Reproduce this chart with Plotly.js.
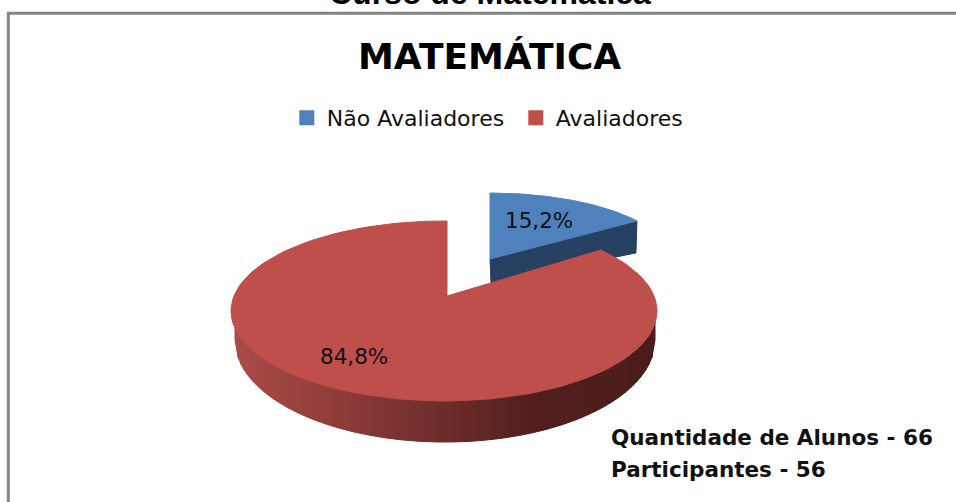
<!DOCTYPE html>
<html>
<head>
<meta charset="utf-8">
<script src="https://cdn.plot.ly/plotly-3.0.1.min.js"></script>
<style>
  body { margin: 0; background: #fff; }
  #plot { width: 956px; height: 502px; }
</style>
</head>
<body>
<div id="plot"></div>
<script>
const categories = ['Não Avaliadores', 'Avaliadores'];
const shares = [15.2, 84.8];
const shareLabels = ['15,2%', '84,8%'];
const sliceColors = ['#4f81bd', '#be4f4b'];
const noteLines = ['Quantidade de Alunos - 66', 'Participantes - 56'];

// the axes run in page pixels, so the pie geometry below is easy to tune
const blueTop = { ax: 490, ay: 259, cx: 490, cy: 259, rx: 180, ry: 66 };
const redTop = { ax: 447, ay: 296, cx: 444, cy: 311, rx: 213, ry: 90 };
const redBottom = { cx: 445, cy: 340, rx: 210, ry: 102 };

// point on the rim for a clockwise angle from 12 o'clock
function rimPoint(e, deg) {
  const t = deg * Math.PI / 180;
  const dx = e.rx * Math.sin(t), dy = -e.ry * Math.cos(t);
  const ox = (e.ax - e.cx) / e.rx, oy = (e.ay - e.cy) / e.ry;
  const px = dx / e.rx, py = dy / e.ry;
  const a = px * px + py * py, b = 2 * (ox * px + oy * py), c = ox * ox + oy * oy - 1;
  const s = (-b + Math.sqrt(b * b - 4 * a * c)) / (2 * a);
  return [e.ax + s * dx, e.ay + s * dy];
}

function wedge(e, from, to) {
  const xs = [e.ax], ys = [e.ay];
  for (let d = from; d <= to + 0.001; d += (to - from) / 120) {
    const p = rimPoint(e, d);
    xs.push(p[0]);
    ys.push(p[1]);
  }
  xs.push(e.ax);
  ys.push(e.ay);
  return { xs, ys };
}

function polygon(xs, ys, color) {
  return {
    x: xs, y: ys, type: 'scatter', mode: 'lines', fill: 'toself', fillcolor: color,
    line: { color: color, width: 1 }, showlegend: false, hoverinfo: 'skip'
  };
}

function lowerEdge(e, x) {
  const u = Math.min(1, Math.abs(x - e.cx) / e.rx);
  return e.cy + e.ry * Math.sqrt(1 - u * u);
}

// colour of the red side wall, darkening to the right
const wallStops = [[231, [170, 76, 72]], [340, [142, 60, 57]], [440, [110, 45, 43]], [530, [82, 31, 29]], [657, [76, 29, 28]]];
function wallColor(x) {
  for (let i = 1; i < wallStops.length; i++) {
    if (x <= wallStops[i][0]) {
      const a = wallStops[i - 1], b = wallStops[i];
      const f = (x - a[0]) / (b[0] - a[0]);
      const c = a[1].map((v, k) => Math.round(v + (b[1][k] - v) * f));
      return `rgb(${c[0]},${c[1]},${c[2]})`;
    }
  }
  return 'rgb(76,29,28)';
}

const blueSweep = shares[0] / 100 * 360;
const traces = [];

// blue side wall
const blueEnd = rimPoint(blueTop, blueSweep);
traces.push(polygon(
  [blueTop.ax, blueEnd[0], blueEnd[0] - 1, blueTop.ax + 1, blueTop.ax],
  [blueTop.ay, blueEnd[1], blueEnd[1] + 32, blueTop.ay + 24, blueTop.ay],
  '#254061'
));

// red side wall, as thin strips between the top and bottom rims
const wallStep = 3;
for (let x = redBottom.cx - redBottom.rx; x < redBottom.cx + redBottom.rx; x += wallStep) {
  const x2 = Math.min(x + wallStep, redBottom.cx + redBottom.rx);
  traces.push(polygon(
    [x, x2, x2, x, x],
    [lowerEdge(redTop, x) - 2, lowerEdge(redTop, x2) - 2,
     lowerEdge(redBottom, x2), lowerEdge(redBottom, x),
     lowerEdge(redTop, x) - 2],
    wallColor(x)
  ));
}

const blueFace = wedge(blueTop, 0, blueSweep);
traces.push(polygon(blueFace.xs, blueFace.ys, sliceColors[0]));
const redFace = wedge(redTop, blueSweep, 360);
traces.push(polygon(redFace.xs, redFace.ys, sliceColors[1]));

// legend entries
categories.forEach((name, i) => {
  traces.push({
    x: [null], y: [null], type: 'scatter', mode: 'markers', name: name,
    marker: { symbol: 'square', size: 15, color: sliceColors[i] }
  });
});

const labelFont = { family: 'DejaVu Sans', size: 21.5, color: '#111' };
const noteFont = { family: 'DejaVu Sans', size: 21.5, color: '#111', weight: 700 };

const layout = {
  width: 956,
  height: 502,
  margin: { l: 0, r: 0, t: 0, b: 0 },
  paper_bgcolor: '#fff',
  plot_bgcolor: '#fff',
  xaxis: { range: [0, 956], visible: false, fixedrange: true },
  yaxis: { range: [502, 0], visible: false, fixedrange: true },
  legend: {
    orientation: 'h', x: 0.3, y: 0.765, xanchor: 'left', yanchor: 'middle',
    font: { family: 'DejaVu Sans', size: 22, color: '#111' }, itemwidth: 30,
    entrywidth: 184, entrywidthmode: 'pixels', bgcolor: 'rgba(0,0,0,0)'
  },
  shapes: [
    { type: 'line', x0: 7, x1: 956, y0: 13.2, y1: 13.2, line: { color: '#848484', width: 3 } },
    { type: 'line', x0: 8.3, x1: 8.3, y0: 12, y1: 502, line: { color: '#848484', width: 3 } }
  ],
  annotations: [
    { text: 'Curso de Matemática', x: 490, y: 13, yanchor: 'bottom', showarrow: false,
      font: { family: 'Liberation Sans', size: 32, color: '#000', weight: 700 } },
    { text: 'MATEMÁTICA', x: 489, y: 56, showarrow: false,
      font: { family: 'DejaVu Sans', size: 36, color: '#000', weight: 700 } },
    { text: shareLabels[0], x: 539, y: 220, showarrow: false, font: labelFont },
    { text: shareLabels[1], x: 354, y: 356, showarrow: false, font: labelFont },
    { text: noteLines[0], x: 609, y: 437, xanchor: 'left', showarrow: false, font: noteFont },
    { text: noteLines[1], x: 609, y: 469, xanchor: 'left', showarrow: false, font: noteFont }
  ]
};

Plotly.newPlot('plot', traces, layout, { displayModeBar: false, staticPlot: true });
</script>
</body>
</html>
